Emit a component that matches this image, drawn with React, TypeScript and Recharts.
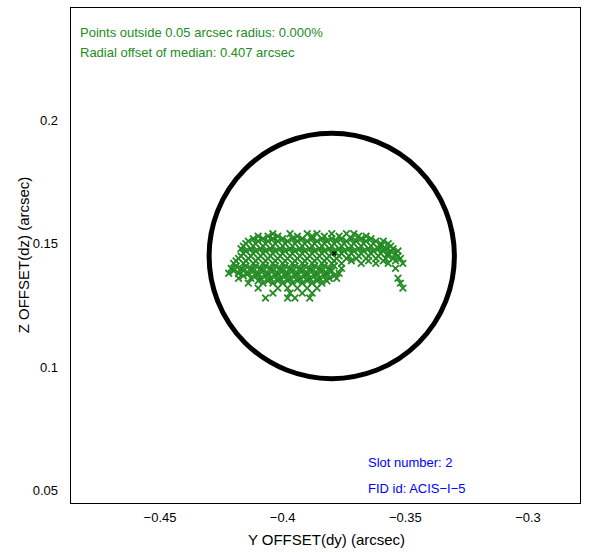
import { ScatterChart, Scatter, XAxis, YAxis, ReferenceDot } from 'recharts';

const X_TICKS = [-0.45, -0.4, -0.35, -0.3];
const Y_TICKS = [0.05, 0.1, 0.15, 0.2];
const X_DOMAIN = [-0.4867, -0.2788];
const Y_DOMAIN = [0.0451, 0.2457];

// offsets grouped by dz row: [dz, dy values]
const ROWS: [number, number[]][] = [
  [0.154, [-0.404, -0.397, -0.39, -0.386, -0.38, -0.374, -0.371]],
  [0.153, [-0.41, -0.406, -0.402, -0.394, -0.388, -0.383, -0.377, -0.369, -0.366]],
  [0.152, [-0.412, -0.408, -0.404, -0.4, -0.396, -0.392, -0.388, -0.384, -0.38, -0.376, -0.372, -0.368, -0.364]],
  [0.151, [-0.414, -0.41, -0.406, -0.402, -0.398, -0.394, -0.39, -0.386, -0.382, -0.378, -0.374, -0.37, -0.366, -0.362, -0.359]],
  [0.15, [-0.415, -0.411, -0.407, -0.403, -0.399, -0.395, -0.391, -0.387, -0.383, -0.379, -0.375, -0.371, -0.367, -0.363, -0.36, -0.357]],
  [0.149, [-0.416, -0.412, -0.408, -0.404, -0.4, -0.396, -0.392, -0.388, -0.384, -0.38, -0.376, -0.372, -0.368, -0.364, -0.36, -0.356]],
  [0.148, [-0.417, -0.413, -0.409, -0.405, -0.401, -0.397, -0.393, -0.389, -0.385, -0.381, -0.377, -0.373, -0.369, -0.365, -0.361, -0.358, -0.355]],
  [0.147, [-0.415, -0.411, -0.407, -0.403, -0.399, -0.395, -0.391, -0.387, -0.383, -0.379, -0.375, -0.371, -0.367, -0.363, -0.359, -0.356, -0.353]],
  [0.146, [-0.416, -0.412, -0.408, -0.404, -0.4, -0.396, -0.392, -0.388, -0.384, -0.38, -0.376, -0.372, -0.368, -0.364, -0.36, -0.357, -0.354]],
  [0.145, [-0.417, -0.413, -0.409, -0.405, -0.401, -0.397, -0.393, -0.389, -0.385, -0.381, -0.377, -0.373, -0.369, -0.365, -0.361, -0.357, -0.353]],
  [0.144, [-0.418, -0.414, -0.41, -0.406, -0.402, -0.398, -0.394, -0.39, -0.386, -0.382, -0.378, -0.374, -0.37, -0.366, -0.362, -0.358, -0.355, -0.352]],
  [0.143, [-0.419, -0.415, -0.411, -0.407, -0.403, -0.399, -0.395, -0.391, -0.387, -0.383, -0.379, -0.372, -0.365, -0.359, -0.354]],
  [0.142, [-0.42, -0.416, -0.412, -0.408, -0.404, -0.4, -0.396, -0.392, -0.388, -0.384, -0.38, -0.376, -0.368, -0.362, -0.357, -0.351]],
  [0.141, [-0.419, -0.415, -0.411, -0.407, -0.403, -0.399, -0.395, -0.391, -0.387, -0.383, -0.379]],
  [0.14, [-0.421, -0.417, -0.413, -0.409, -0.405, -0.401, -0.397, -0.393, -0.389, -0.385, -0.381, -0.376, -0.354]],
  [0.139, [-0.42, -0.416, -0.412, -0.408, -0.404, -0.4, -0.396, -0.392, -0.388, -0.384, -0.38]],
  [0.138, [-0.422, -0.418, -0.414, -0.41, -0.406, -0.402, -0.398, -0.394, -0.39, -0.386, -0.382, -0.377]],
  [0.137, [-0.416, -0.411, -0.407, -0.403, -0.399, -0.395, -0.391, -0.387, -0.383, -0.379]],
  [0.136, [-0.418, -0.413, -0.409, -0.405, -0.401, -0.397, -0.393, -0.389, -0.385, -0.381, -0.378, -0.353]],
  [0.135, [-0.41, -0.406, -0.402, -0.398, -0.394, -0.39, -0.386, -0.382]],
  [0.134, [-0.414, -0.408, -0.404, -0.4, -0.396, -0.392, -0.388, -0.384, -0.352]],
  [0.132, [-0.41, -0.402, -0.398, -0.394, -0.39, -0.386, -0.351]],
  [0.13, [-0.404, -0.397, -0.392, -0.388]],
  [0.128, [-0.407, -0.398, -0.395, -0.389]],
];

const MEDIAN = { dy: -0.379, dz: 0.146 };
const CIRCLE = { dy: -0.38, dz: 0.145, r: 0.05 };

const W = 591;
const H = 552;
const M = { top: 7, right: 11, bottom: 9, left: 10 };
const Y_W = 60;
const X_H = 40;
const PX_PER_UNIT = (W - M.left - M.right - Y_W) / (X_DOMAIN[1] - X_DOMAIN[0]);

const points = ROWS.flatMap(([dz, dys]) => dys.map((dy) => ({ dy, dz })));

const Cross = (color: string, s: number, w: number) => (props: any) => {
  const { cx, cy } = props;
  return (
    <path
      d={`M${cx - s},${cy - s}L${cx + s},${cy + s}M${cx - s},${cy + s}L${cx + s},${cy - s}`}
      stroke={color}
      strokeWidth={w}
    />
  );
};

const font = 'Liberation Sans, Arial, sans-serif';

export default function App() {
  return (
    <div style={{ position: 'absolute', left: 0, top: 0, width: W, height: H, background: '#fff', fontFamily: font }}>
      <ScatterChart width={W} height={H} margin={M}>
        <XAxis
          type="number"
          dataKey="dy"
          domain={X_DOMAIN}
          ticks={X_TICKS}
          allowDataOverflow
          height={X_H}
          axisLine={false}
          tickLine={false}
          tickMargin={4}
          tick={{ fill: '#000', fontSize: 13 }}
          tickFormatter={(v) => String(v).replace('-', '\u2212')}
        />
        <YAxis
          type="number"
          dataKey="dz"
          domain={Y_DOMAIN}
          ticks={Y_TICKS}
          allowDataOverflow
          width={Y_W}
          axisLine={false}
          tickLine={false}
          tickMargin={6}
          tick={{ fill: '#000', fontSize: 13 }}
        />
        <ReferenceDot
          x={CIRCLE.dy}
          y={CIRCLE.dz}
          shape={(p: any) => (
            <circle cx={p.cx} cy={p.cy} r={CIRCLE.r * PX_PER_UNIT} fill="none" stroke="#000" strokeWidth={5} />
          )}
        />
        <Scatter data={points} isAnimationActive={false} shape={Cross('#228b22', 3.3, 1.8)} />
        <Scatter data={[MEDIAN]} isAnimationActive={false} shape={Cross('#000', 2, 1.4)} />
      </ScatterChart>
      <div style={{ position: 'absolute', left: 70, top: 7, width: 509, height: 495, border: '1px solid #000', pointerEvents: 'none' }} />
      <div style={{ position: 'absolute', left: 80, top: 23, color: '#228b22', fontSize: 13, lineHeight: '20px' }}>
        <div>Points outside 0.05 arcsec radius: 0.000%</div>
        <div>Radial offset of median: 0.407 arcsec</div>
      </div>
      <div style={{ position: 'absolute', left: 368, top: 450, color: '#0000ff', fontSize: 13, lineHeight: '26px' }}>
        <div>Slot number: 2</div>
        <div>FID id: ACIS−I−5</div>
      </div>
      <div style={{ position: 'absolute', left: 0, right: 0, top: 531, textAlign: 'center', paddingLeft: 62, fontSize: 15 }}>
        Y OFFSET(dy) (arcsec)
      </div>
      <div style={{ position: 'absolute', left: 23, top: 255, fontSize: 15, transform: 'translate(-50%,-50%) rotate(-90deg)', whiteSpace: 'nowrap' }}>
        Z OFFSET(dz) (arcsec)
      </div>
    </div>
  );
}
